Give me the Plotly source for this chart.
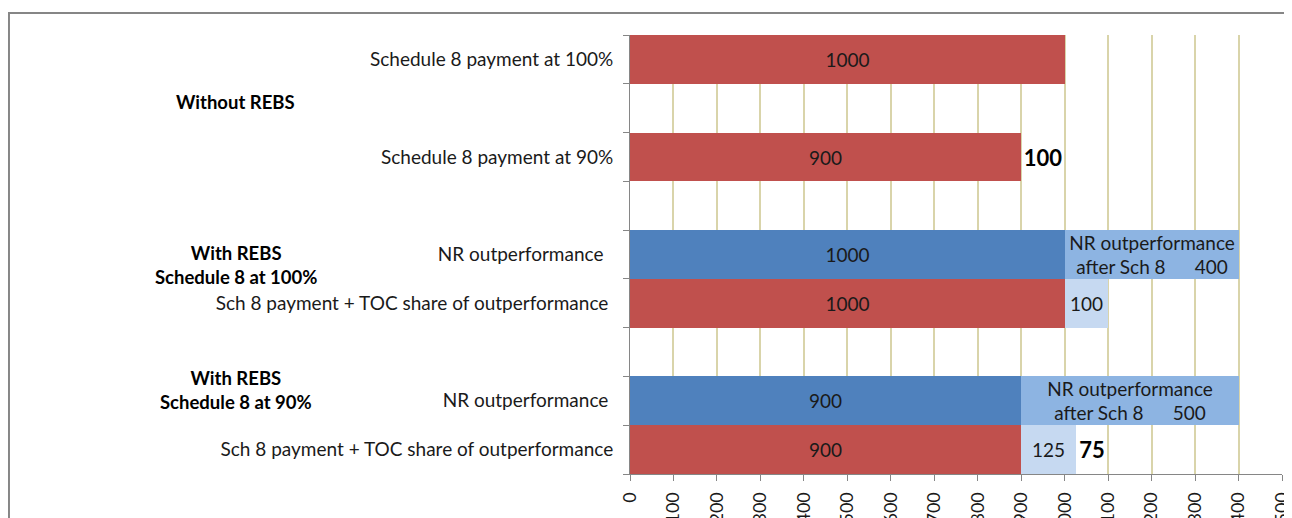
"""
REBS vs Schedule 8 payments - horizontal stacked bar recreation.
"""

import plotly.graph_objects as go

# rows listed bottom to top; trailing spaces keep duplicate labels unique
rows = [
    "Sch 8 payment + TOC share of outperformance",
    "NR outperformance ",
    " ",
    "Sch 8 payment + TOC share of outperformance ",
    "NR outperformance  ",
    "  ",
    "Schedule 8 payment at 90%",
    "   ",
    "Schedule 8 payment at 100%",
]

sch8_payment = [900, None, None, 1000, None, None, 900, None, 1000]
nr_outperformance = [None, 900, None, None, 1000, None, None, None, None]
nr_after_sch8 = [None, 500, None, None, 400, None, None, None, None]
toc_share = [125, None, None, 100, None, None, None, None, None]
shortfall = [75, None, None, None, None, None, 100, None, None]

group_labels = ["Without REBS", "With REBS<br>Schedule 8 at 100%", "With REBS<br>Schedule 8 at 90%"]
group_pos = [0.847, 0.477, 0.191]

x_ticks = list(range(0, 1501, 100))

RED = "#C0504D"
BLUE = "#4F81BD"
LIGHT_BLUE = "#8DB4E2"
PALE_BLUE = "#C6D9F1"
FONT = "Lato"
TEXT = "#1A1A1A"


def bar(values, color, template, font_size=19, bold=False):
    return go.Bar(
        y=rows,
        x=values,
        orientation="h",
        marker=dict(color=color, line=dict(width=0)),
        texttemplate=template,
        textposition="inside",
        insidetextanchor="middle",
        textangle=0,
        constraintext="none",
        textfont=dict(family=FONT, size=font_size, color="#000000" if bold else TEXT),
        hoverinfo="skip",
        showlegend=False,
    )


fig = go.Figure()
fig.add_trace(bar(sch8_payment, RED, "%{x}"))
fig.add_trace(bar(nr_outperformance, BLUE, "%{x}"))
fig.add_trace(bar(nr_after_sch8, LIGHT_BLUE, "NR outperformance<br>after Sch 8      %{x}"))
fig.add_trace(bar(toc_share, PALE_BLUE, "%{x}"))
fig.add_trace(bar(shortfall, "rgba(0,0,0,0)", "<b>%{x}</b>", font_size=22, bold=True))

for label, pos in zip(group_labels, group_pos):
    fig.add_annotation(
        text=f"<b>{label}</b>",
        xref="paper", yref="paper",
        x=-0.605, y=pos,
        xanchor="center", yanchor="middle",
        showarrow=False,
        font=dict(family=FONT, size=18.5, color="#000000"),
        align="center",
    )

# outer chart frame (runs off the right and bottom of the view)
fig.add_shape(
    type="rect", xref="paper", yref="paper",
    x0=-0.9525, x1=1.2, y0=-0.3, y1=1.05,
    line=dict(color="#868686", width=2),
    layer="below",
)

# page body adds an 8px margin, so the figure is 8px smaller and margins shifted
fig.update_layout(
    width=1284,
    height=510,
    barmode="stack",
    bargap=0,
    margin=dict(l=622, r=10, t=27, b=44),
    paper_bgcolor="white",
    plot_bgcolor="white",
    font=dict(family=FONT, size=19, color=TEXT),
)
fig.update_xaxes(
    range=[0, 1500],
    tickvals=x_ticks,
    tickangle=-90,
    ticks="outside",
    ticklen=6,
    tickcolor="#868686",
    showline=True,
    linecolor="#868686",
    linewidth=1,
    showgrid=True,
    gridcolor="#D9D4AA",
    gridwidth=1.5,
    zeroline=False,
    automargin=False,
    ticklabelstandoff=4,
    tickfont=dict(family=FONT, size=18, color=TEXT),
)
fig.update_yaxes(
    categoryorder="array",
    categoryarray=rows,
    tickson="boundaries",
    ticks="outside",
    ticklen=6,
    tickcolor="#868686",
    showline=True,
    linecolor="#868686",
    linewidth=1,
    showgrid=False,
    automargin=False,
    ticklabelstandoff=12,
    tickfont=dict(family=FONT, size=19, color=TEXT),
)

fig.write_html("out.html")
